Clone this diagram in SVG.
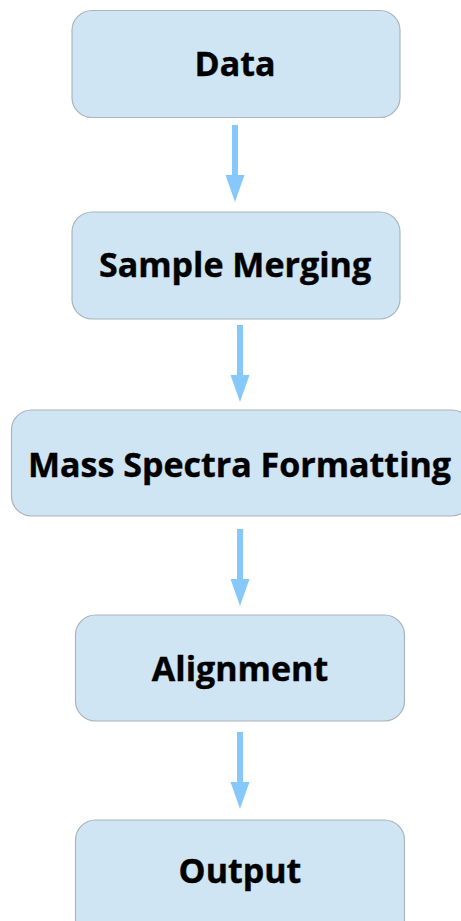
<svg xmlns="http://www.w3.org/2000/svg" width="461" height="921" viewBox="0 0 461 921">
  <style>
    .box { fill: #cfe5f3; stroke: #a9b4bb; stroke-width: 1.2; }
    .label { font-family: "Open Sans", Lato, "Liberation Sans", sans-serif; font-weight: 700; font-size: 34px; fill: #000; stroke: #000; stroke-width: 0.4; text-anchor: middle; }
    .shaft { stroke: #86c8f9; stroke-width: 6; fill: none; }
    .head { fill: #86c8f9; }
  </style>
  <rect width="461" height="921" fill="#ffffff"/>

  <g id="connectors">
    <g id="c1"><line class="shaft" x1="235" y1="125" x2="235" y2="177"/><polygon class="head" points="225.5,175 244.5,175 235,202"/></g>
    <g id="c2"><line class="shaft" x1="240" y1="325" x2="240" y2="377"/><polygon class="head" points="230.5,375 249.5,375 240,402"/></g>
    <g id="c3"><line class="shaft" x1="240" y1="529" x2="240" y2="581"/><polygon class="head" points="230.5,579 249.5,579 240,606"/></g>
    <g id="c4"><line class="shaft" x1="240" y1="732" x2="240" y2="784"/><polygon class="head" points="230.5,782 249.5,782 240,809"/></g>
  </g>

  <g id="node-data">
    <rect class="box" x="72" y="10.5" width="328" height="107" rx="20"/>
    <text class="label" x="235" y="76">Data</text>
  </g>
  <g id="node-sample-merging">
    <rect class="box" x="72" y="212" width="328" height="107" rx="20"/>
    <text class="label" x="235" y="277">Sample Merging</text>
  </g>
  <g id="node-mass-spectra">
    <rect class="box" x="11.5" y="410" width="460" height="106" rx="20"/>
    <text class="label" x="239.5" y="477">Mass Spectra Formatting</text>
  </g>
  <g id="node-alignment">
    <rect class="box" x="75.5" y="615" width="329" height="106" rx="20"/>
    <text class="label" x="240" y="681">Alignment</text>
  </g>
  <g id="node-output">
    <rect class="box" x="75.5" y="820" width="329" height="120" rx="20"/>
    <text class="label" x="240" y="883">Output</text>
  </g>
</svg>
